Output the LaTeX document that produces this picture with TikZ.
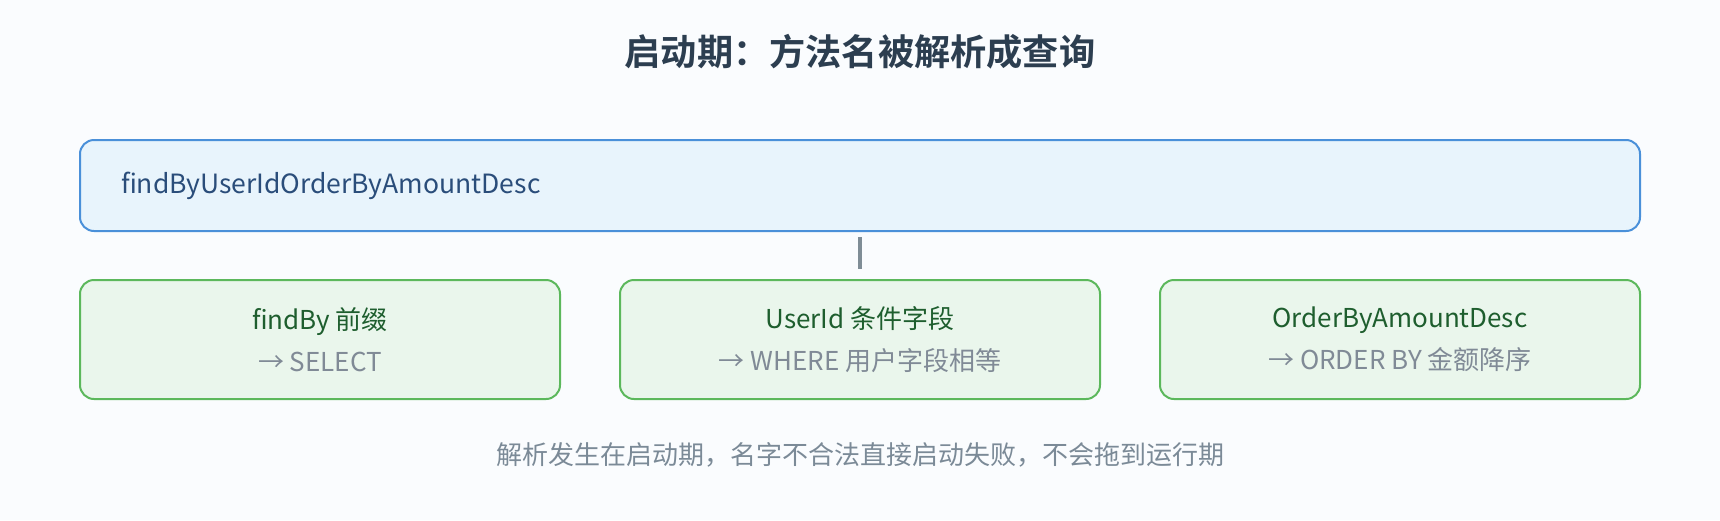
\documentclass[tikz,border=0pt]{standalone}
\usepackage{fontspec}
\setmainfont{Noto Sans CJK SC}[BoldFont={Noto Sans CJK SC Bold}]
\definecolor{bgc}{RGB}{250,252,254}
\definecolor{titlec}{RGB}{44,62,80}
\definecolor{topfill}{RGB}{232,244,252}
\definecolor{topdraw}{RGB}{74,144,217}
\definecolor{toptext}{RGB}{42,77,122}
\definecolor{gfill}{RGB}{234,246,236}
\definecolor{gdraw}{RGB}{92,184,92}
\definecolor{gtext}{RGB}{30,94,46}
\definecolor{subtext}{RGB}{128,138,150}
\definecolor{connc}{RGB}{127,141,150}
\definecolor{footc}{RGB}{123,138,151}
\tikzset{
  topbox/.style={draw=topdraw, fill=topfill, line width=2pt, rounded corners=14pt,
    minimum width=1560pt, minimum height=91pt, text width=1478pt, inner xsep=41pt,
    align=left, text=toptext, font=\fontsize{26.5}{32}\selectfont},
  partbox/.style={draw=gdraw, fill=gfill, line width=2pt, rounded corners=14pt,
    minimum width=480pt, minimum height=119pt, align=center,
    font=\fontsize{26}{42}\selectfont},
  conn/.style={draw=connc, line width=4pt},
  titlestyle/.style={text=titlec, font=\fontsize{36.2}{40}\selectfont\bfseries},
  footstyle/.style={text=footc, font=\fontsize{26}{30}\selectfont}
}
\begin{document}
\begin{tikzpicture}[x=1pt,y=-1pt]
\fill[bgc] (0,0) rectangle (1720,520);
\useasboundingbox (0,0) rectangle (1720,520);
\node[titlestyle] (title) at (860,52) {启动期：方法名被解析成查询};
\node[topbox] (src) at (860,185.5) {\raisebox{-3.5pt}{findByUserIdOrderByAmountDesc}};
\node[partbox] (b1) at (320,339.5) {{\color{gtext}findBy 前缀}\\{\color{subtext}→ SELECT}};
\node[partbox] (b2) at (860,339.5) {{\color{gtext}UserId 条件字段}\\{\color{subtext}→ WHERE 用户字段相等}};
\node[partbox] (b3) at (1400,339.5) {{\color{gtext}OrderByAmountDesc}\\{\color{subtext}→ ORDER BY 金额降序}};
\draw[conn, shorten <=5pt, shorten >=10pt] (src.south) -- (b2.north);
\node[footstyle] (foot) at (860,455) {解析发生在启动期，名字不合法直接启动失败，不会拖到运行期};
\end{tikzpicture}
\end{document}
